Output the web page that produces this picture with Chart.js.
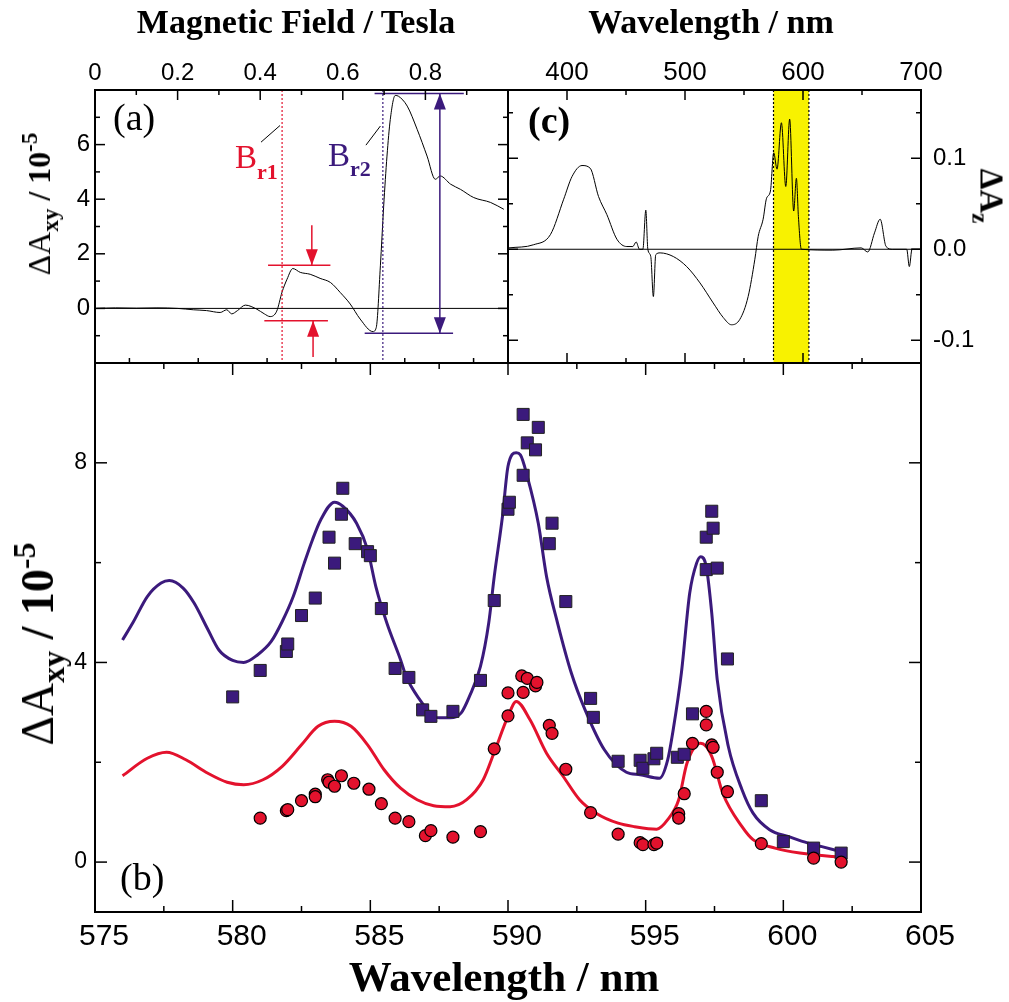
<!DOCTYPE html>
<html>
<head>
<meta charset="utf-8">
<script src="https://cdn.jsdelivr.net/npm/chart.js@4.4.1/dist/chart.umd.min.js"></script>
<style>
  html, body { margin: 0; padding: 0; background: #fff; }
  #wrap { position: relative; width: 1009px; height: 1002px; overflow: hidden; }
  canvas { position: absolute; left: 0; top: 0; }
  .t { position: absolute; font-family: "Liberation Serif", "Times New Roman", serif; color: #000;
       white-space: nowrap; line-height: 1; z-index: 5; }
  .b { font-weight: bold; }
  .n { font-weight: normal; }
  .sub, .sup { position: relative; font-weight: bold; }
</style>
</head>
<body>
<div id="wrap">
  <canvas id="chartB" width="1009" height="1002"></canvas>
  <canvas id="chartA" width="1009" height="1002"></canvas>
  <canvas id="chartC" width="1009" height="1002"></canvas>

  <div class="t b" style="left:296px;top:5px;font-size:34px;transform:translateX(-50%)">Magnetic Field / Tesla</div>
  <div class="t b" style="left:711px;top:5px;font-size:34px;transform:translateX(-50%)">Wavelength / nm</div>
  <div class="t b" style="left:504px;top:955px;font-size:43px;transform:translateX(-50%)">Wavelength / nm</div>

  <div class="t b" style="left:39px;top:204px;font-size:32px;transform:translate(-50%,-50%) rotate(-90deg)"><span class="n">ΔA</span><span class="sub" style="font-size:23px;top:8px">xy</span> / 10<span class="sup" style="font-size:23px;top:-13px">-5</span></div>
  <div class="t b" style="left:38px;top:644px;font-size:46px;transform:translate(-50%,-50%) rotate(-90deg)"><span class="n">ΔA</span><span class="sub" style="font-size:32px;top:11px">xy</span> / 10<span class="sup" style="font-size:32px;top:-18px">-5</span></div>
  <div class="t b" style="left:991px;top:196px;font-size:33px;transform:translate(-50%,-50%) rotate(90deg)">ΔA<span class="sub" style="font-size:23px;top:8px">z</span></div>

  <div class="t" style="left:113px;top:98px;font-size:38px">(a)</div>
  <div class="t b" style="left:528px;top:101px;font-size:38px">(c)</div>
  <div class="t" style="left:120px;top:858px;font-size:38px">(b)</div>

  <div class="t" style="left:235px;top:141px;font-size:33px;color:#e3122d">B<span class="sub" style="font-size:22px;top:11px">r1</span></div>
  <div class="t" style="left:328px;top:139px;font-size:33px;color:#3b1a7c">B<span class="sub" style="font-size:22px;top:10px">r2</span></div>
</div>

<script>
// ---- panel (a): signal vs magnetic field ----
const fieldT = [0.004, 0.05, 0.10, 0.15, 0.20, 0.238, 0.27, 0.303, 0.319, 0.331, 0.345, 0.364, 0.392, 0.41, 0.424,
  0.44, 0.453, 0.465, 0.479, 0.497, 0.521, 0.545, 0.570, 0.594, 0.618, 0.642, 0.673, 0.681, 0.691, 0.699,
  0.707, 0.715, 0.727, 0.735, 0.756, 0.780, 0.804, 0.824, 0.836, 0.861, 0.885, 0.917, 0.958, 0.990];
const fieldSignal = [0.0, 0.02, 0.01, 0.02, 0.0, -0.05, -0.08, -0.15, -0.05, -0.2, -0.08, 0.12, -0.03, -0.2, -0.3,
  -0.1, 0.6, 1.07, 1.46, 1.32, 1.25, 1.1, 0.95, 0.58, 0.16, -0.39, -0.85, -0.7, 1.56, 3.75,
  5.58, 6.92, 7.8, 7.77, 7.41, 6.56, 5.58, 4.73, 4.85, 4.55, 4.36, 4.06, 3.88, 3.63];
const resonanceFields = [0.453, 0.697];        // B_r1, B_r2
const stepLevelsR1 = [1.58, -0.45];            // amplitude bars around B_r1
const stepLevelsR2 = [7.87, -0.91];            // amplitude bars around B_r2

// ---- panel (c): spectrum ----
const specWl = [350.7, 371.8, 385.9, 397.2, 404.3, 412.7, 419.7, 426.7, 433.8, 442.3, 450.7, 455.8, 458.6, 461.4,
  464.3, 466.8, 468.5, 471.0, 473.2, 475.2, 478.9, 490.1, 501.4, 512.7, 523.9, 532.4, 539.4, 546.5, 553.5,
  559.2, 562.0, 566.2, 569.1, 572.4, 575.2, 578.0, 581.7, 585.4, 588.7, 592.1, 594.4, 596.1, 598.6, 625.3,
  649.3, 654.9, 660.6, 665.4, 670.4, 676.0, 687.9, 690.1, 692.4, 700.0];
const specDeltaAz = [0.0015, 0.005, 0.016, 0.055, 0.080, 0.092, 0.089, 0.058, 0.038, 0.011, 0.003, 0.003, 0.008, 0.0,
  0.0, 0.043, 0.0, -0.008, -0.052, -0.006, -0.004, -0.008, -0.019, -0.037, -0.059, -0.075, -0.083, -0.077, -0.052,
  -0.011, 0.014, 0.033, 0.056, 0.064, 0.106, 0.088, 0.139, 0.069, 0.143, 0.042, 0.078, 0.036, 0.0, -0.001,
  0.0015, -0.003, 0.018, 0.033, 0.003, 0.0, 0.0, -0.019, 0.0, 0.0];
const bandRange = [575, 605];

// ---- panel (b): ΔAxy spectra ----
const purpleLineWl = [576.0, 576.4, 576.9, 577.4, 577.7, 578.2, 578.6, 579.1, 579.5, 580.0, 580.4, 580.9, 581.4,
  581.8, 582.2, 582.6, 582.9, 583.2, 583.7, 584.0, 584.5, 584.9, 585.2, 585.6, 586.1, 586.3, 586.8, 587.3,
  587.5, 587.9, 588.3, 588.6, 589.0, 589.3, 589.5, 589.8, 590.0, 590.3, 590.45, 590.7, 591.1, 591.4, 591.8,
  592.3, 592.8, 593.5, 594.3, 594.8, 595.5, 595.8, 596.0, 596.3, 596.6, 596.85, 597.0, 597.2, 597.4, 597.6,
  598.0, 598.5, 598.9, 599.5, 600.2, 600.9, 601.4, 602.1];
const purpleLine = [4.45, 4.82, 5.32, 5.59, 5.64, 5.49, 5.19, 4.66, 4.25, 4.04, 4.0, 4.15, 4.42,
  4.82, 5.32, 5.99, 6.46, 6.86, 7.21, 7.13, 6.79, 6.26, 5.52, 4.79, 4.05, 3.72, 3.25, 2.92,
  2.89, 2.89, 2.99, 3.32, 3.92, 4.79, 5.72, 6.93, 7.93, 8.20, 8.16, 7.73, 6.79, 5.72, 4.79,
  3.79, 3.05, 2.25, 1.80, 1.75, 1.68, 2.05, 2.65, 3.80, 5.39, 5.99, 6.12, 5.92, 4.99, 3.65,
  2.32, 1.45, 0.98, 0.65, 0.51, 0.38, 0.31, 0.21];
const redLineWl = [576.0, 576.9, 577.6, 578.3, 579.1, 579.8, 580.4, 581.1, 581.8, 582.5, 583.1, 583.7, 584.3,
  584.9, 585.5, 586.1, 586.7, 587.3, 587.9, 588.5, 589.1, 589.5, 590.0, 590.3, 590.8, 591.4, 592.0, 592.6,
  593.2, 594.0, 594.6, 595.4, 595.8, 596.2, 596.5, 597.0, 597.4, 597.8, 598.5, 598.9, 599.7, 600.6, 601.8, 602.1];
const redLine = [1.73, 2.08, 2.20, 2.05, 1.78, 1.60, 1.55, 1.65, 1.92, 2.35, 2.72, 2.82, 2.72,
  2.35, 1.85, 1.48, 1.25, 1.13, 1.11, 1.25, 1.65, 2.20, 2.92, 3.22, 2.85, 2.18, 1.72, 1.25,
  0.98, 0.78, 0.71, 0.66, 0.85, 1.25, 1.98, 2.38, 2.12, 1.38, 0.71, 0.45, 0.28, 0.18, 0.11, 0.10];
const squareWl = [580.0, 581.0, 581.95, 582.0, 582.5, 583.0, 583.5, 583.7, 583.95, 584.0, 584.45, 584.9, 585.0,
  585.4, 585.9, 586.4, 586.9, 587.2, 588.0, 589.0, 589.5, 590.0, 590.05, 590.55, 590.55, 590.7, 591.0, 591.1,
  591.5, 591.6, 592.1, 593.0, 593.1, 594.0, 594.8, 594.9, 595.3, 595.4, 596.15, 596.4, 596.7, 597.2, 597.45,
  597.4, 597.2, 597.6, 597.97, 599.2, 600.0, 601.1, 602.1];
const squareVal = [3.31, 3.84, 4.22, 4.37, 4.94, 5.29, 6.51, 5.99, 6.97, 7.49, 6.38, 6.22, 6.14,
  5.08, 3.88, 3.70, 3.05, 2.92, 3.02, 3.64, 5.24, 7.07, 7.21, 7.75, 8.97, 8.40, 8.26, 8.71,
  6.38, 6.79, 5.22, 3.28, 2.90, 2.02, 2.04, 1.88, 2.07, 2.18, 2.10, 2.16, 2.97, 6.51, 6.69,
  7.03, 5.86, 5.89, 4.07, 1.23, 0.41, 0.28, 0.18];
const circleWl = [581.0, 581.95, 582.0, 582.5, 583.0, 583.0, 583.45, 583.5, 583.7, 583.95, 584.4, 584.95, 585.4,
  585.9, 586.4, 587.0, 587.2, 588.0, 589.0, 589.5, 590.0, 590.0, 590.55, 590.5, 590.7, 591.0, 591.05, 591.5,
  591.6, 592.1, 593.0, 594.0, 594.8, 594.9, 595.3, 595.4, 596.2, 596.2, 596.4, 596.7, 597.2, 597.2, 597.4,
  597.45, 597.6, 597.97, 599.2, 601.1, 602.1];
const circleVal = [0.88, 1.03, 1.05, 1.23, 1.36, 1.31, 1.65, 1.60, 1.52, 1.73, 1.58, 1.46, 1.17,
  0.88, 0.81, 0.53, 0.63, 0.50, 0.61, 2.27, 2.93, 3.39, 3.40, 3.73, 3.68, 3.53, 3.60, 2.74,
  2.58, 1.86, 0.99, 0.56, 0.39, 0.35, 0.35, 0.38, 0.97, 0.88, 1.37, 2.38, 3.02, 2.75, 2.35,
  2.30, 1.80, 1.41, 0.37, 0.08, 0.0];

// ---- tick labels and tick marks ----
const fieldTicks = [0, 0.2, 0.4, 0.6, 0.8];
const fieldMinor = [0.1, 0.3, 0.5, 0.7, 0.9];
const axyTicksA = [0, 2, 4, 6];
const axyMinorA = [-1, 1, 3, 5, 7];
const specTicks = [400, 500, 600, 700];
const specMinor = [450, 550, 650];
const azTicks = [-0.1, 0, 0.1];
const azMinor = [-0.05, 0.05, 0.15];
const wlTicks = [575, 580, 585, 590, 595, 600, 605];
const wlMinor = [577.5, 582.5, 587.5, 592.5, 597.5, 602.5];
const axyTicksB = [0, 4, 8];
const axyMinorB = [2, 6];
const bottomMarksA = [0.5, 1.5, 2.5, 3.5, 4.5, 5.5];

const PURPLE = '#3b1a7c';
const RED = '#e3122d';
const SANS = "'Liberation Sans', Arial, sans-serif";

const pts = (xs, ys) => xs.map((x, i) => ({ x, y: ys[i] }));
const fixTicks = vals => s => { s.ticks = vals.map(v => ({ value: v })); };

function line(ctx, x0, y0, x1, y1) {
  ctx.beginPath(); ctx.moveTo(x0, y0); ctx.lineTo(x1, y1); ctx.stroke();
}
function head(ctx, x, yTip, dir, w, l) {
  ctx.beginPath();
  ctx.moveTo(x, yTip);
  ctx.lineTo(x - w, yTip - dir * l);
  ctx.lineTo(x + w, yTip - dir * l);
  ctx.closePath(); ctx.fill();
}

// frame, inward tick marks, shaded band, zero line
const framePlugin = {
  id: 'frame',
  beforeDatasetsDraw(chart, args, opts) {
    const { ctx, chartArea: a } = chart;
    ctx.save();
    if (opts.band) {
      const xs = chart.scales.x;
      const x0 = xs.getPixelForValue(opts.band[0]), x1 = xs.getPixelForValue(opts.band[1]);
      ctx.fillStyle = '#f8f200';
      ctx.fillRect(x0, a.top, x1 - x0, a.bottom - a.top);
      ctx.strokeStyle = '#000'; ctx.lineWidth = 1.2; ctx.setLineDash([2, 2]);
      line(ctx, x0, a.top, x0, a.bottom);
      line(ctx, x1, a.top, x1, a.bottom);
      ctx.setLineDash([]);
    }
    if (opts.zeroLine) {
      const y0 = chart.scales.y.getPixelForValue(0);
      ctx.strokeStyle = '#000'; ctx.lineWidth = 1;
      line(ctx, a.left, y0, a.right, y0);
    }
    ctx.restore();
  },
  afterDraw(chart, args, opts) {
    const { ctx, chartArea: a } = chart;
    ctx.save();
    ctx.strokeStyle = '#000';
    ctx.lineWidth = 1.5;
    (opts.marks || []).forEach(m => {
      const s = chart.scales[m.scale];
      m.values.forEach(v => {
        const p = s.getPixelForValue(v);
        if (m.side === 'top') line(ctx, p, a.top, p, a.top + m.len);
        if (m.side === 'bottom') line(ctx, p, a.bottom, p, a.bottom - m.len);
        if (m.side === 'left') line(ctx, a.left, p, a.left + m.len, p);
        if (m.side === 'right') line(ctx, a.right, p, a.right - m.len, p);
      });
    });
    ctx.lineWidth = 2;
    ctx.strokeRect(a.left, a.top, a.right - a.left, a.bottom - a.top);
    ctx.restore();
  }
};

// resonance markers of panel (a)
const resonancePlugin = {
  id: 'resonance',
  afterDatasetsDraw(chart, args, opts) {
    const { ctx, chartArea: a, scales: { x, y } } = chart;
    const px = v => x.getPixelForValue(v), py = v => y.getPixelForValue(v);
    ctx.save();
    opts.marks.forEach(m => {
      ctx.strokeStyle = m.color; ctx.fillStyle = m.color;
      ctx.lineWidth = 1.2; ctx.setLineDash([2, 2]);
      line(ctx, px(m.field), a.top, px(m.field), a.bottom);
      ctx.setLineDash([]);
      ctx.lineWidth = 1.5;
      m.bars.forEach(b => line(ctx, px(b[0]), py(b[2]), px(b[1]), py(b[2])));
      m.arrows.forEach(ar => {
        const y0 = py(ar[1]), y1 = py(ar[2]);
        line(ctx, px(ar[0]), y0, px(ar[0]), y1);
        head(ctx, px(ar[0]), y1, y1 > y0 ? 1 : -1, 6, 16);
        if (ar[3]) head(ctx, px(ar[0]), y0, y0 > y1 ? 1 : -1, 6, 16);
      });
      ctx.strokeStyle = '#000'; ctx.lineWidth = 1;
      line(ctx, px(m.leader[0]), py(m.leader[1]), px(m.leader[2]), py(m.leader[3]));
    });
    ctx.restore();
  }
};

const noGrid = { display: false, drawTicks: false };
const noBorder = { display: false };
const baseOpts = { responsive: false, animation: false, events: [] };

// ---------- panel (a) ----------
new Chart(document.getElementById('chartA'), {
  type: 'scatter',
  data: {
    datasets: [{
      data: pts(fieldT, fieldSignal), showLine: true, borderColor: '#000', borderWidth: 1,
      pointRadius: 0, cubicInterpolationMode: 'monotone'
    }]
  },
  options: {
    ...baseOpts,
    layout: { padding: { left: 0, top: 0, right: 501, bottom: 639 } },
    plugins: {
      legend: { display: false }, tooltip: { enabled: false },
      frame: {
        zeroLine: true,
        marks: [
          { scale: 'x', side: 'top', len: 10, values: fieldTicks.slice(1) },
          { scale: 'x', side: 'top', len: 5, values: fieldMinor },
          { scale: 'xb', side: 'bottom', len: 5, values: bottomMarksA },
          { scale: 'y', side: 'left', len: 10, values: axyTicksA },
          { scale: 'y', side: 'left', len: 5, values: axyMinorA },
          { scale: 'y', side: 'right', len: 10, values: axyTicksA },
          { scale: 'y', side: 'right', len: 5, values: axyMinorA }
        ]
      },
      resonance: {
        marks: [
          { color: RED, field: resonanceFields[0], leader: [0.402, 6.09, 0.448, 6.70],
            bars: [[0.419, 0.570, stepLevelsR1[0]], [0.410, 0.564, stepLevelsR1[1]]],
            arrows: [[0.525, 3.05, stepLevelsR1[0]], [0.528, -1.78, stepLevelsR1[1]]] },
          { color: PURPLE, field: resonanceFields[1], leader: [0.656, 5.98, 0.691, 6.68],
            bars: [[0.677, 0.893, stepLevelsR2[0]], [0.653, 0.867, stepLevelsR2[1]]],
            arrows: [[0.835, stepLevelsR2[1], stepLevelsR2[0], true]] }
        ]
      }
    },
    scales: {
      x: {
        type: 'linear', position: 'top', min: 0, max: 1, grid: noGrid, border: noBorder,
        afterBuildTicks: fixTicks(fieldTicks), afterFit: s => { s.height = 90; },
        ticks: { color: '#000', padding: 2, maxRotation: 0, autoSkip: false,
          font: { family: SANS, size: 24 }, callback: v => (v === 0 ? '0' : v.toFixed(1)) }
      },
      xb: { type: 'linear', position: 'bottom', min: 0, max: 6, display: false },
      y: {
        type: 'linear', position: 'left', min: -2, max: 8, grid: noGrid, border: noBorder,
        afterBuildTicks: fixTicks(axyTicksA), afterFit: s => { s.width = 95; },
        ticks: { color: '#000', padding: 5, font: { family: SANS, size: 24 } }
      }
    }
  },
  plugins: [framePlugin, resonancePlugin]
});

// ---------- panel (c) ----------
new Chart(document.getElementById('chartC'), {
  type: 'scatter',
  data: {
    datasets: [{
      data: pts(specWl, specDeltaAz), showLine: true, borderColor: '#000', borderWidth: 1,
      pointRadius: 0, cubicInterpolationMode: 'monotone'
    }]
  },
  options: {
    ...baseOpts,
    layout: { padding: { left: 508, top: 0, right: 0, bottom: 639 } },
    plugins: {
      legend: { display: false }, tooltip: { enabled: false },
      frame: {
        zeroLine: true, band: bandRange,
        marks: [
          { scale: 'x', side: 'top', len: 10, values: specTicks },
          { scale: 'x', side: 'top', len: 5, values: specMinor },
          { scale: 'x', side: 'bottom', len: 10, values: specTicks },
          { scale: 'x', side: 'bottom', len: 5, values: specMinor },
          { scale: 'y', side: 'right', len: 10, values: azTicks },
          { scale: 'y', side: 'right', len: 5, values: azMinor },
          { scale: 'y', side: 'left', len: 10, values: azTicks },
          { scale: 'y', side: 'left', len: 5, values: azMinor }
        ]
      }
    },
    scales: {
      x: {
        type: 'linear', position: 'top', min: 350, max: 700, grid: noGrid, border: noBorder,
        afterBuildTicks: fixTicks(specTicks), afterFit: s => { s.height = 90; },
        ticks: { color: '#000', padding: 2, maxRotation: 0, autoSkip: false, font: { family: SANS, size: 26 } }
      },
      y: {
        type: 'linear', position: 'right', min: -0.125, max: 0.175, grid: noGrid, border: noBorder,
        afterBuildTicks: fixTicks(azTicks), afterFit: s => { s.width = 88; },
        ticks: { color: '#000', padding: 12, font: { family: SANS, size: 24 }, callback: v => v.toFixed(1) }
      }
    }
  },
  plugins: [framePlugin]
});

// ---------- panel (b) ----------
new Chart(document.getElementById('chartB'), {
  type: 'scatter',
  data: {
    datasets: [
      { data: pts(circleWl, circleVal), pointStyle: 'circle', pointRadius: 6,
        backgroundColor: RED, borderColor: '#000', borderWidth: 1.2 },
      { data: pts(squareWl, squareVal), pointStyle: 'rect', pointRadius: 8.5,
        backgroundColor: PURPLE, borderColor: '#222', borderWidth: 1 },
      { data: pts(redLineWl, redLine), showLine: true, borderColor: RED, borderWidth: 3,
        pointRadius: 0, cubicInterpolationMode: 'monotone' },
      { data: pts(purpleLineWl, purpleLine), showLine: true, borderColor: PURPLE, borderWidth: 3,
        pointRadius: 0, cubicInterpolationMode: 'monotone' }
    ]
  },
  options: {
    ...baseOpts,
    layout: { padding: { left: 0, top: 363, right: 88, bottom: 0 } },
    plugins: {
      legend: { display: false }, tooltip: { enabled: false },
      frame: {
        marks: [
          { scale: 'x', side: 'bottom', len: 12, values: wlTicks },
          { scale: 'x', side: 'bottom', len: 6, values: wlMinor },
          { scale: 'x', side: 'top', len: 12, values: wlTicks },
          { scale: 'x', side: 'top', len: 6, values: wlMinor },
          { scale: 'y', side: 'left', len: 12, values: axyTicksB },
          { scale: 'y', side: 'left', len: 6, values: axyMinorB },
          { scale: 'y', side: 'right', len: 12, values: axyTicksB },
          { scale: 'y', side: 'right', len: 6, values: axyMinorB }
        ]
      }
    },
    scales: {
      x: {
        type: 'linear', position: 'bottom', min: 575, max: 605, grid: noGrid, border: noBorder,
        afterBuildTicks: fixTicks(wlTicks), afterFit: s => { s.height = 90; },
        ticks: { color: '#000', padding: 7, labelOffset: 9, maxRotation: 0, autoSkip: false,
          font: { family: SANS, size: 30 } }
      },
      y: {
        type: 'linear', position: 'left', min: -1, max: 10, grid: noGrid, border: noBorder,
        afterBuildTicks: fixTicks(axyTicksB), afterFit: s => { s.width = 95; },
        ticks: { color: '#000', padding: 8, font: { family: SANS, size: 23 } }
      }
    }
  },
  plugins: [framePlugin]
});
</script>
</body>
</html>
